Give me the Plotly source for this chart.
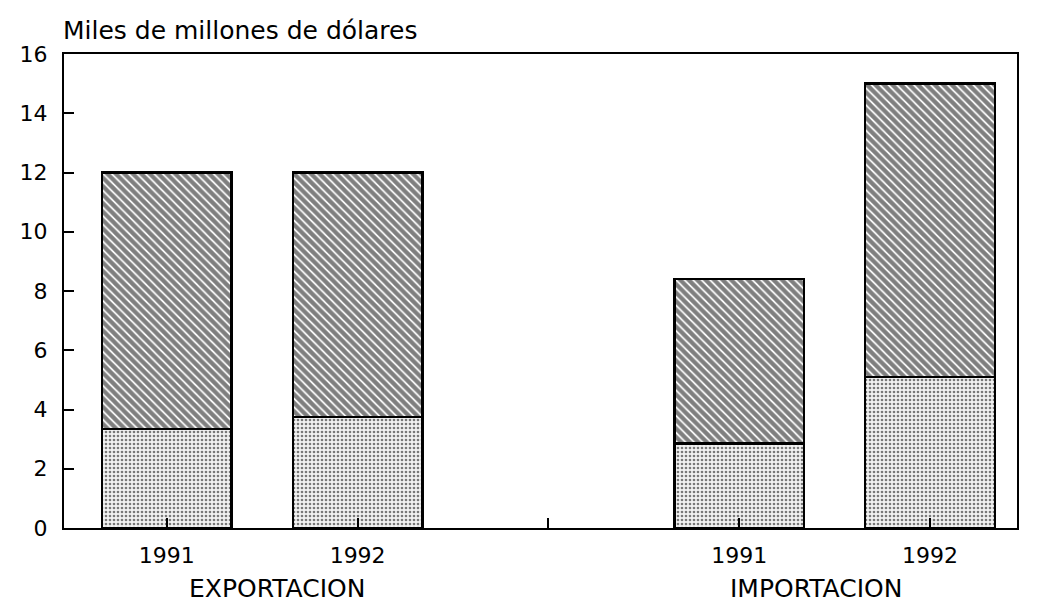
import plotly.graph_objects as go

positions = [0, 1, 3, 4]
years = ["1991", "1992", "1991", "1992"]
groups = ["EXPORTACION", "IMPORTACION"]
group_pos = [0.58, 3.40]
bottom_vals = [3.35, 3.75, 2.85, 5.1]
totals = [12.0, 12.0, 8.4, 15.0]
top_vals = [t - b for t, b in zip(totals, bottom_vals)]
y_ticks = [0, 2, 4, 6, 8, 10, 12, 14, 16]

FONT = "DejaVu Sans, Verdana, sans-serif"

fig = go.Figure()
fig.add_trace(go.Bar(
    x=positions, y=bottom_vals, width=0.68,
    marker=dict(color="white", line=dict(color="black", width=2.5),
                pattern=dict(shape=".", fgcolor="black", bgcolor="#f2f2f2", size=4, solidity=0.35)),
    showlegend=False,
))
fig.add_trace(go.Bar(
    x=positions, y=top_vals, width=0.68,
    marker=dict(color="white", line=dict(color="black", width=2.5),
                pattern=dict(shape="\\", fgcolor="black", bgcolor="white", size=6, solidity=0.7)),
    showlegend=False,
))

fig.update_layout(
    barmode="stack",
    width=1048, height=599,
    margin=dict(l=52, r=39, t=46, b=79),
    paper_bgcolor="white", plot_bgcolor="white",
    font=dict(family=FONT, size=22, color="black"),
    xaxis=dict(range=[-0.539, 4.456], tickvals=[0, 1, 2, 3, 4],
               ticktext=[years[0], years[1], "", years[2], years[3]],
               ticks="inside", ticklen=10, tickwidth=1.5, tickcolor="black",
               showline=True, linecolor="black", linewidth=2, mirror=True,
               showgrid=False, zeroline=False, ticklabelstandoff=7),
    yaxis=dict(range=[0, 16], tickvals=y_ticks,
               ticks="inside", ticklen=10, tickwidth=1.5, tickcolor="black",
               showline=True, linecolor="black", linewidth=2, mirror=True,
               showgrid=False, zeroline=False, ticklabelstandoff=10),
    annotations=[
        dict(text="Miles de millones de dólares", xref="paper", yref="paper",
             x=-0.003, y=1.0, xanchor="left", yanchor="middle", yshift=24,
             showarrow=False, font=dict(size=25)),
        dict(text=groups[0], xref="x", yref="paper", x=group_pos[0], y=0, yshift=-60,
             xanchor="center", yanchor="middle", showarrow=False, font=dict(size=25)),
        dict(text=groups[1], xref="x", yref="paper", x=group_pos[1], y=0, yshift=-60,
             xanchor="center", yanchor="middle", showarrow=False, font=dict(size=25)),
    ],
)

fig.write_html("out.html")
